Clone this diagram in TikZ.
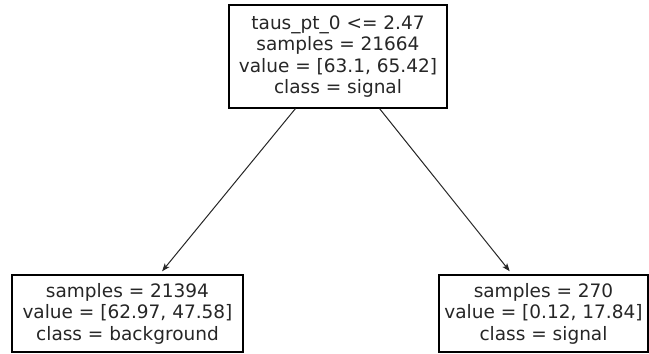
\documentclass[tikz,border=0pt]{standalone}
\usepackage{fontspec}
\setmainfont{DejaVu Sans}
\usetikzlibrary{arrows.meta}

\begin{document}
\begin{tikzpicture}[x=1pt,y=-1pt,
    treenode/.style={draw=black,line width=1.2pt,fill=white,align=center,
      inner xsep=0pt,inner ysep=0pt,
      font=\fontsize{18.5}{21.5}\selectfont,text=black!85},
    treeedge/.style={line width=1pt,black!85,
      -{Stealth[length=8pt,width=6pt,inset=2pt]},shorten >=4pt}]
  \useasboundingbox (0,0) rectangle (649,354);
  % split node
  \node[treenode,minimum width=218pt,minimum height=103pt] (root) at (338,56.5)
    {taus\_pt\_0 <= 2.47\\samples = 21664\\value = [63.1, 65.42]\\class = signal};
  % leaves
  \node[treenode,minimum width=231pt,minimum height=77pt] (bkg) at (127.5,313.5)
    {samples = 21394\\value = [62.97, 47.58]\\class = background};
  \node[treenode,minimum width=209pt,minimum height=77pt] (sig) at (543.5,313.5)
    {samples = 270\\value = [0.12, 17.84]\\class = signal};
  \draw[treeedge] (root) -- (bkg);
  \draw[treeedge] (root) -- (sig);
\end{tikzpicture}
\end{document}
